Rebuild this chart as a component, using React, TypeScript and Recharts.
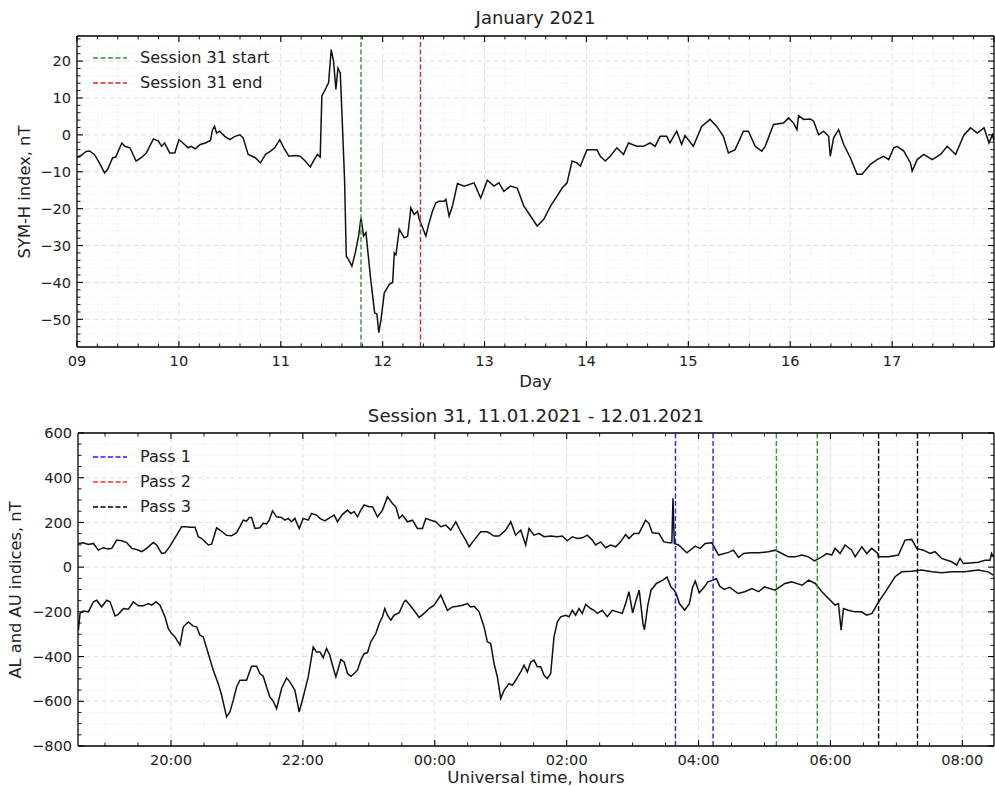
import React from 'react';
import { LineChart, Line, XAxis, YAxis, ReferenceLine } from 'recharts';

const FONT = '"DejaVu Sans", Verdana, sans-serif';

// ---------- Top panel: SYM-H index (day of January 2021, nT) ----------
const symhPoints: [number, number][] = [
  [9.0, -6], [9.04, -5.6], [9.09, -4.5], [9.125, -4.4], [9.17, -5.3], [9.22, -7.6], [9.27, -10.3], [9.3, -9.4],
  [9.35, -6.2], [9.38, -6.0], [9.44, -2.2], [9.47, -3.1], [9.52, -3.5], [9.58, -7.1], [9.63, -6.2], [9.68, -4.9],
  [9.75, -1.1], [9.8, -1.7], [9.83, -3.1], [9.86, -2.2], [9.91, -4.9], [9.96, -4.9], [10.0, -1.3], [10.04, -2.2],
  [10.09, -3.5], [10.12, -3.1], [10.16, -3.8], [10.21, -2.6], [10.26, -2.2], [10.31, -1.5], [10.33, 1.4], [10.35, 2.3],
  [10.37, 0.5], [10.4, 1.0], [10.45, -0.4], [10.5, -1.3], [10.55, -0.4], [10.6, 0], [10.63, -0.8], [10.68, -5.3],
  [10.75, -6.2], [10.8, -7.6], [10.85, -5.3], [10.9, -4.4], [10.94, -3.5], [10.99, -1.3], [11.03, -3.5], [11.08, -5.8],
  [11.14, -5.6], [11.19, -5.8], [11.24, -7.1], [11.29, -8.7], [11.32, -7.1], [11.36, -5.3], [11.387, -6.0], [11.403, 10.5],
  [11.436, 12.3], [11.469, 14.1], [11.495, 23.1], [11.518, 19.9], [11.541, 12.3], [11.561, 18.1], [11.584, 16.8], [11.6, 6],
  [11.626, -12.1], [11.643, -32.9], [11.666, -33.8], [11.698, -35.6], [11.731, -32], [11.764, -27.4], [11.787, -22.5], [11.813, -27.4],
  [11.836, -26.5], [11.879, -38.3], [11.921, -48.2], [11.944, -48.6], [11.962, -53.6], [11.984, -50], [12.016, -42.8], [12.065, -40.5],
  [12.098, -40], [12.114, -32], [12.13, -32.5], [12.163, -25.6], [12.212, -27.9], [12.245, -27.5], [12.277, -19.8], [12.31, -21.6],
  [12.342, -20.7], [12.359, -22.9], [12.424, -27.4], [12.456, -23.8], [12.489, -20.7], [12.522, -18.4], [12.554, -18], [12.603, -18],
  [12.62, -17.5], [12.652, -22], [12.685, -19.3], [12.734, -13.2], [12.8, -13.9], [12.897, -13], [12.962, -17.1], [13.027, -12.3],
  [13.092, -13.9], [13.141, -13], [13.19, -15.3], [13.255, -13.9], [13.32, -14.4], [13.386, -19.3], [13.451, -22], [13.516, -24.7],
  [13.581, -22.9], [13.647, -19.3], [13.712, -16.6], [13.761, -14.4], [13.81, -13], [13.859, -7.1], [13.907, -7.6], [13.94, -8.5],
  [14.005, -4], [14.103, -4], [14.136, -5.8], [14.185, -7.1], [14.233, -5.8], [14.299, -3.5], [14.364, -5.3], [14.413, -2.2],
  [14.494, -3.1], [14.559, -3.1], [14.625, -2.2], [14.674, -3.1], [14.723, -0.4], [14.788, -0.4], [14.82, -2.2], [14.886, 1],
  [14.934, -2.6], [14.967, -0.2], [15.049, -3.1], [15.131, 2.3], [15.213, 4.2], [15.279, 2.3], [15.344, -0.4], [15.393, -4.9],
  [15.459, -4], [15.541, 1], [15.59, 1], [15.656, -3.1], [15.721, -4.4], [15.754, -3.1], [15.836, 2.8], [15.934, 3.2],
  [15.984, 4.6], [16.033, 3.2], [16.066, 1.4], [16.082, 5.2], [16.131, 4.2], [16.197, 4.3], [16.23, 3.7], [16.279, 0],
  [16.328, 1], [16.377, -0.4], [16.393, -5.8], [16.426, -0.8], [16.475, 1.4], [16.525, -2.6], [16.59, -6.2], [16.656, -10.7],
  [16.705, -10.7], [16.787, -8], [16.852, -6.7], [16.918, -5.8], [16.967, -6.7], [17.016, -3.5], [17.049, -3.1], [17.115, -4.4],
  [17.18, -7.6], [17.197, -9.8], [17.246, -6.7], [17.311, -5.3], [17.393, -6.7], [17.475, -5.3], [17.541, -3.1], [17.623, -5.3],
  [17.705, 0], [17.77, 1.9], [17.836, 0.5], [17.902, 1.9], [17.951, -2.2], [17.984, 0], [18.0, -1.5],
];

// ---------- Bottom panel: AU (upper) and AL (lower), hours UT from 11.01 00:00 ----------
const auPoints: [number, number][] = [
  [18.596, 106], [18.672, 109], [18.747, 101], [18.823, 106], [18.899, 76], [18.975, 87], [19.05, 81], [19.101, 84],
  [19.177, 121], [19.253, 118], [19.328, 110], [19.404, 84], [19.48, 79], [19.556, 69], [19.631, 84], [19.732, 110],
  [19.783, 99], [19.859, 61], [19.909, 64], [19.985, 94], [20.086, 143], [20.162, 181], [20.237, 181], [20.288, 178],
  [20.364, 178], [20.414, 136], [20.465, 128], [20.566, 99], [20.616, 103], [20.692, 176], [20.742, 166], [20.843, 142],
  [20.919, 140], [20.995, 154], [21.045, 181], [21.096, 210], [21.146, 206], [21.187, 222], [21.222, 222], [21.273, 173],
  [21.348, 176], [21.399, 196], [21.449, 193], [21.49, 210], [21.54, 252], [21.601, 225], [21.677, 222], [21.727, 210],
  [21.778, 218], [21.828, 203], [21.879, 218], [21.944, 173], [22.005, 218], [22.081, 210], [22.131, 240], [22.207, 233],
  [22.258, 218], [22.333, 207], [22.409, 221], [22.475, 233], [22.525, 203], [22.601, 236], [22.677, 255], [22.727, 240],
  [22.778, 248], [22.828, 225], [22.879, 255], [22.929, 278], [23.005, 270], [23.056, 270], [23.131, 225], [23.207, 255],
  [23.283, 315], [23.359, 285], [23.409, 270], [23.46, 218], [23.51, 233], [23.586, 203], [23.662, 210], [23.737, 173],
  [23.813, 173], [23.864, 218], [23.939, 210], [24.015, 203], [24.091, 181], [24.167, 188], [24.242, 166], [24.318, 203],
  [24.394, 158], [24.47, 121], [24.52, 91], [24.596, 121], [24.697, 158], [24.798, 158], [24.899, 139], [24.975, 139],
  [25.076, 166], [25.152, 203], [25.227, 143], [25.303, 166], [25.379, 99], [25.429, 173], [25.505, 143], [25.581, 151],
  [25.657, 136], [25.758, 139], [25.859, 136], [25.934, 139], [26.01, 118], [26.086, 136], [26.162, 128], [26.237, 131],
  [26.313, 143], [26.389, 121], [26.439, 99], [26.515, 113], [26.591, 87], [26.667, 99], [26.742, 91], [26.818, 113],
  [26.894, 146], [26.944, 128], [27.02, 151], [27.096, 151], [27.197, 210], [27.247, 196], [27.298, 154], [27.399, 151],
  [27.475, 113], [27.55, 109], [27.595, 109], [27.612, 308], [27.632, 106], [27.697, 99], [27.823, 64], [27.949, 94],
  [28.025, 84], [28.101, 106], [28.202, 109], [28.303, 54], [28.455, 66], [28.53, 76], [28.606, 43], [28.682, 61],
  [28.783, 64], [28.909, 64], [29.061, 69], [29.162, 76], [29.263, 61], [29.364, 46], [29.465, 46], [29.566, 54],
  [29.667, 46], [29.758, 28], [29.869, 46], [29.944, 61], [30.02, 54], [30.071, 84], [30.146, 61], [30.222, 99],
  [30.323, 76], [30.374, 46], [30.475, 91], [30.551, 61], [30.626, 84], [30.717, 61], [30.727, 46], [30.879, 46],
  [31.03, 54], [31.131, 121], [31.232, 124], [31.308, 84], [31.409, 76], [31.51, 61], [31.586, 69], [31.687, 39],
  [31.838, 24], [31.914, 9], [31.965, 39], [32.015, 16], [32.116, 19], [32.242, 22], [32.343, 31], [32.419, 31],
  [32.444, 61], [32.47, 46],
];

const alPoints: [number, number][] = [
  [18.596, -282], [18.621, -207], [18.672, -196], [18.747, -200], [18.823, -155], [18.874, -148], [18.949, -178], [19.025, -148],
  [19.076, -155], [19.152, -218], [19.202, -211], [19.278, -185], [19.354, -188], [19.429, -155], [19.505, -173], [19.581, -173],
  [19.657, -163], [19.707, -170], [19.773, -155], [19.833, -170], [19.909, -222], [19.96, -275], [20.01, -297], [20.061, -312],
  [20.136, -349], [20.187, -267], [20.263, -245], [20.338, -264], [20.389, -267], [20.439, -304], [20.49, -312], [20.566, -387],
  [20.641, -461], [20.717, -521], [20.768, -573], [20.843, -670], [20.894, -648], [20.944, -596], [20.995, -536], [21.045, -506],
  [21.146, -506], [21.222, -443], [21.298, -443], [21.348, -476], [21.399, -488], [21.449, -536], [21.5, -581], [21.551, -600],
  [21.601, -633], [21.677, -543], [21.753, -496], [21.803, -513], [21.879, -551], [21.944, -648], [22.005, -581], [22.081, -491],
  [22.157, -357], [22.207, -379], [22.258, -379], [22.308, -405], [22.359, -364], [22.409, -394], [22.449, -439], [22.5, -491],
  [22.576, -413], [22.626, -424], [22.677, -476], [22.727, -488], [22.778, -476], [22.828, -461], [22.879, -416], [22.929, -387],
  [22.98, -382], [23.03, -334], [23.106, -297], [23.157, -252], [23.207, -222], [23.242, -185], [23.283, -215], [23.333, -237],
  [23.384, -215], [23.46, -204], [23.535, -155], [23.561, -148], [23.636, -175], [23.712, -204], [23.763, -225], [23.838, -207],
  [23.914, -185], [23.99, -170], [24.091, -125], [24.192, -193], [24.268, -178], [24.343, -175], [24.419, -170], [24.495, -163],
  [24.545, -178], [24.596, -175], [24.672, -200], [24.747, -267], [24.798, -334], [24.848, -342], [24.899, -431], [24.949, -491],
  [25.0, -588], [25.051, -551], [25.126, -521], [25.177, -528], [25.227, -506], [25.303, -469], [25.354, -439], [25.404, -469],
  [25.455, -424], [25.505, -416], [25.556, -446], [25.606, -446], [25.657, -484], [25.707, -498], [25.758, -476], [25.808, -312],
  [25.859, -245], [25.909, -222], [25.985, -215], [26.035, -222], [26.086, -193], [26.136, -215], [26.187, -185], [26.237, -207],
  [26.288, -167], [26.364, -185], [26.414, -193], [26.465, -207], [26.54, -193], [26.616, -222], [26.692, -193], [26.768, -200],
  [26.843, -207], [26.894, -163], [26.944, -110], [27.0, -205], [27.05, -150], [27.1, -103], [27.157, -253], [27.18, -280],
  [27.23, -171], [27.28, -103], [27.36, -73], [27.46, -58], [27.52, -44], [27.58, -88], [27.63, -103], [27.66, -118],
  [27.71, -163], [27.79, -193], [27.86, -163], [27.91, -90], [27.95, -62], [28.01, -115], [28.09, -88], [28.14, -66],
  [28.22, -58], [28.27, -51], [28.32, -85], [28.39, -100], [28.47, -90], [28.53, -103], [28.6, -118], [28.7, -110],
  [28.81, -96], [28.91, -110], [29.0, -88], [29.16, -103], [29.31, -73], [29.41, -66], [29.57, -81], [29.67, -58],
  [29.77, -73], [29.87, -110], [29.97, -140], [30.07, -170], [30.121, -163], [30.162, -282], [30.197, -185], [30.27, -193],
  [30.37, -200], [30.47, -200], [30.55, -215], [30.63, -207], [30.73, -155], [30.85, -103], [30.98, -43], [31.08, -21],
  [31.23, -18], [31.38, -13], [31.54, -21], [31.69, -25], [31.84, -21], [32.04, -21], [32.24, -13], [32.39, -21],
  [32.47, -36],
];

// ---------- Markers / legend ----------
const sessionNames = ['Session 31 start', 'Session 31 end'];
const sessionColors = ['#3a923a', '#d62828'];
const sessionDays = [11.787, 12.371];

const passNames = ['Pass 1', 'Pass 2', 'Pass 3'];
const passLegendColors = ['#2020ff', '#ff3030', '#000000'];
const passLineColors = ['#2020ff', '#2a9a2a', '#000000'];
const passStarts = [27.65, 29.18, 30.73];
const passEnds = [28.22, 29.8, 31.32];

// ---------- Axes ----------
const topXDomain = [9, 18];
const topYDomain = [-57.5, 26.8];
const botXDomain = [18.59, 32.48];
const botYDomain = [-800, 600];

const range = (a: number, b: number, step: number) => {
  const out: number[] = [];
  for (let i = 0; a + i * step <= b + 1e-9; i++) out.push(+(a + i * step).toFixed(4));
  return out;
};
const topXTicks = range(9, 18, 0.2);
const topYTicks = range(-56, 26, 2);
const botXTicks = range(19, 32, 0.5);
const botYTicks = range(-800, 600, 50);

const isMult = (v: number, step: number) => Math.abs(v / step - Math.round(v / step)) < 1e-6;
const fmtNum = (v: number) => (v < 0 ? '\u2212' + Math.abs(v) : String(v));
const fmtDay = (v: number) => (v >= 18 ? '' : String(Math.round(v)).padStart(2, '0'));
const fmtHour = (v: number) => String(Math.round(v) % 24).padStart(2, '0') + ':00';

type Side = 'top' | 'bottom' | 'left' | 'right';
const makeTick = (side: Side, majorStep: number, fmt?: (v: number) => string) => (props: any) => {
  const { x, y, payload } = props;
  const v = payload.value as number;
  const major = isMult(v, majorStep);
  const len = major ? 6 : 3.5;
  const sw = major ? 1.1 : 0.9;
  let line: any = null;
  let label: any = null;
  if (side === 'bottom') {
    line = <line x1={x} y1={y} x2={x} y2={y - len} stroke="#000" strokeWidth={sw} />;
    if (fmt && major)
      label = (
        <text x={x} y={y + 19} textAnchor="middle" fontSize={14.6} fill="#222" style={{ fontFamily: FONT }}>
          {fmt(v)}
        </text>
      );
  } else if (side === 'top') {
    line = <line x1={x} y1={y} x2={x} y2={y + len} stroke="#000" strokeWidth={sw} />;
  } else if (side === 'left') {
    line = <line x1={x} y1={y} x2={x + len} y2={y} stroke="#000" strokeWidth={sw} />;
    if (fmt && major)
      label = (
        <text x={x - 6} y={y + 5.2} textAnchor="end" fontSize={14.6} fill="#222" style={{ fontFamily: FONT }}>
          {fmt(v)}
        </text>
      );
  } else {
    line = <line x1={x} y1={y} x2={x - len} y2={y} stroke="#000" strokeWidth={sw} />;
  }
  return (
    <g>
      {line}
      {label}
    </g>
  );
};

const axisLine = { stroke: '#000', strokeWidth: 1.3 };
const majorGrid = { stroke: '#d8d8d8', strokeWidth: 0.8, strokeDasharray: '5 3' };
const minorGrid = { stroke: '#ececec', strokeWidth: 0.8, strokeDasharray: '1.5 2' };

function Txt({ cx, cy, size, rotate, children }: any) {
  return (
    <div
      style={{
        position: 'absolute',
        left: cx,
        top: cy,
        transform: `translate(-50%, -50%)${rotate ? ` rotate(${rotate}deg)` : ''}`,
        whiteSpace: 'nowrap',
        fontFamily: FONT,
        fontSize: size,
        lineHeight: 1,
        color: '#222',
      }}
    >
      {children}
    </div>
  );
}

function LegendBox({ left, top, names, colors }: any) {
  return (
    <div style={{ position: 'absolute', left, top }}>
      {names.map((n: string, i: number) => (
        <div key={n} style={{ position: 'absolute', left: 0, top: i * 25 - 8, height: 16, display: 'flex', alignItems: 'center' }}>
          <svg width={36} height={4} style={{ display: 'block' }}>
            <line x1={0} y1={2} x2={34} y2={2} stroke={colors[i]} strokeWidth={1.5} strokeDasharray="5 2.5" />
          </svg>
          <span style={{ marginLeft: 11, fontFamily: FONT, fontSize: 16.1, color: '#222', whiteSpace: 'nowrap', lineHeight: 1 }}>
            {n}
          </span>
        </div>
      ))}
    </div>
  );
}

export default function App() {
  const topData = symhPoints.map(([d, v]) => ({ d, v }));
  const botData = [
    ...auPoints.map(([h, v]) => ({ h, au: v })),
    ...alPoints.map(([h, v]) => ({ h, al: v })),
  ].sort((a, b) => a.h - b.h);

  const topMinorX = topXTicks.filter((t) => !isMult(t, 1) && t > topXDomain[0] && t < topXDomain[1]);
  const topMajorX = topXTicks.filter((t) => isMult(t, 1) && t > topXDomain[0] && t < topXDomain[1]);
  const topMinorY = topYTicks.filter((t) => !isMult(t, 10));
  const topMajorY = topYTicks.filter((t) => isMult(t, 10));
  const botMinorX = botXTicks.filter((t) => !isMult(t, 2));
  const botMajorX = botXTicks.filter((t) => isMult(t, 2));
  const botMinorY = botYTicks.filter((t) => !isMult(t, 200) && t > botYDomain[0] && t < botYDomain[1]);
  const botMajorY = botYTicks.filter((t) => isMult(t, 200) && t > botYDomain[0] && t < botYDomain[1]);

  return (
    <div style={{ position: 'absolute', left: 0, top: 0, width: 995, height: 786, background: '#fff', overflow: 'hidden' }}>
      {/* ---------------- Top chart ---------------- */}
      <div style={{ position: 'absolute', left: 0, top: 0 }}>
        <LineChart width={995} height={395} data={topData} margin={{ top: 35, right: 0, bottom: 0, left: 0 }}>
          <XAxis
            xAxisId="main"
            dataKey="d"
            type="number"
            domain={topXDomain}
            allowDataOverflow
            ticks={topXTicks}
            interval={0}
            height={48}
            tickSize={0}
            tickMargin={0}
            axisLine={axisLine}
            tickLine={false}
            tick={makeTick('bottom', 1, fmtDay)}
          />
          <XAxis
            xAxisId="top"
            dataKey="d"
            orientation="top"
            type="number"
            domain={topXDomain}
            allowDataOverflow
            ticks={topXTicks}
            interval={0}
            height={1}
            tickSize={0}
            tickMargin={0}
            axisLine={axisLine}
            tickLine={false}
            tick={makeTick('top', 1)}
          />
          <YAxis
            yAxisId="main"
            type="number"
            domain={topYDomain}
            allowDataOverflow
            ticks={topYTicks}
            interval={0}
            width={77}
            tickSize={0}
            tickMargin={0}
            axisLine={axisLine}
            tickLine={false}
            tick={makeTick('left', 10, fmtNum)}
          />
          <YAxis
            yAxisId="right"
            orientation="right"
            type="number"
            domain={topYDomain}
            allowDataOverflow
            ticks={topYTicks}
            interval={0}
            width={1}
            tickSize={0}
            tickMargin={0}
            axisLine={axisLine}
            tickLine={false}
            tick={makeTick('right', 10)}
          />
          {topMinorX.map((t) => (
            <ReferenceLine key={'tmx' + t} xAxisId="main" yAxisId="main" x={t} {...minorGrid} />
          ))}
          {topMinorY.map((t) => (
            <ReferenceLine key={'tmy' + t} xAxisId="main" yAxisId="main" y={t} {...minorGrid} />
          ))}
          {topMajorX.map((t) => (
            <ReferenceLine key={'tMx' + t} xAxisId="main" yAxisId="main" x={t} {...majorGrid} />
          ))}
          {topMajorY.map((t) => (
            <ReferenceLine key={'tMy' + t} xAxisId="main" yAxisId="main" y={t} {...majorGrid} />
          ))}
          {/* invisible copy bound to the top/right frame axes so their scales are set */}
          <Line
            xAxisId="top"
            yAxisId="right"
            dataKey="v"
            stroke="none"
            strokeWidth={0}
            dot={false}
            activeDot={false}
            isAnimationActive={false}
          />
          <Line
            xAxisId="main"
            yAxisId="main"
            dataKey="v"
            stroke="#111"
            strokeWidth={1.5}
            dot={false}
            activeDot={false}
            isAnimationActive={false}
          />
          {sessionDays.map((d, i) => (
            <ReferenceLine
              key={'s' + i}
              xAxisId="main"
              yAxisId="main"
              x={d}
              stroke={sessionColors[i]}
              strokeWidth={1.4}
              strokeDasharray="5 2.5"
            />
          ))}
        </LineChart>
      </div>

      {/* ---------------- Bottom chart ---------------- */}
      <div style={{ position: 'absolute', left: 0, top: 395 }}>
        <LineChart width={995} height={391} data={botData} margin={{ top: 37, right: 0, bottom: 0, left: 0 }}>
          <XAxis
            xAxisId="main"
            dataKey="h"
            type="number"
            domain={botXDomain}
            allowDataOverflow
            ticks={botXTicks}
            interval={0}
            height={40}
            tickSize={0}
            tickMargin={0}
            axisLine={axisLine}
            tickLine={false}
            tick={makeTick('bottom', 2, fmtHour)}
          />
          <XAxis
            xAxisId="top"
            dataKey="h"
            orientation="top"
            type="number"
            domain={botXDomain}
            allowDataOverflow
            ticks={botXTicks}
            interval={0}
            height={1}
            tickSize={0}
            tickMargin={0}
            axisLine={axisLine}
            tickLine={false}
            tick={makeTick('top', 2)}
          />
          <YAxis
            yAxisId="main"
            type="number"
            domain={botYDomain}
            allowDataOverflow
            ticks={botYTicks}
            interval={0}
            width={78}
            tickSize={0}
            tickMargin={0}
            axisLine={axisLine}
            tickLine={false}
            tick={makeTick('left', 200, fmtNum)}
          />
          <YAxis
            yAxisId="right"
            orientation="right"
            type="number"
            domain={botYDomain}
            allowDataOverflow
            ticks={botYTicks}
            interval={0}
            width={1}
            tickSize={0}
            tickMargin={0}
            axisLine={axisLine}
            tickLine={false}
            tick={makeTick('right', 200)}
          />
          {botMinorX.map((t) => (
            <ReferenceLine key={'bmx' + t} xAxisId="main" yAxisId="main" x={t} {...minorGrid} />
          ))}
          {botMinorY.map((t) => (
            <ReferenceLine key={'bmy' + t} xAxisId="main" yAxisId="main" y={t} {...minorGrid} />
          ))}
          {botMajorX.map((t) => (
            <ReferenceLine key={'bMx' + t} xAxisId="main" yAxisId="main" x={t} {...majorGrid} />
          ))}
          {botMajorY.map((t) => (
            <ReferenceLine key={'bMy' + t} xAxisId="main" yAxisId="main" y={t} {...majorGrid} />
          ))}
          {/* invisible copy bound to the top/right frame axes so their scales are set */}
          <Line
            xAxisId="top"
            yAxisId="right"
            dataKey="au"
            stroke="none"
            strokeWidth={0}
            dot={false}
            activeDot={false}
            connectNulls
            isAnimationActive={false}
          />
          <Line
            xAxisId="main"
            yAxisId="main"
            dataKey="au"
            stroke="#111"
            strokeWidth={1.5}
            dot={false}
            activeDot={false}
            connectNulls
            isAnimationActive={false}
          />
          <Line
            xAxisId="main"
            yAxisId="main"
            dataKey="al"
            stroke="#111"
            strokeWidth={1.5}
            dot={false}
            activeDot={false}
            connectNulls
            isAnimationActive={false}
          />
          {passStarts.flatMap((s, i) =>
            [s, passEnds[i]].map((t, j) => (
              <ReferenceLine
                key={'p' + i + '-' + j}
                xAxisId="main"
                yAxisId="main"
                x={t}
                stroke={passLineColors[i]}
                strokeWidth={1.4}
                strokeDasharray="5 2.5"
              />
            ))
          )}
        </LineChart>
      </div>

      {/* ---------------- Text ---------------- */}
      <Txt cx={535.5} cy={18} size={18}>January 2021</Txt>
      <Txt cx={535.5} cy={382} size={16.5}>Day</Txt>
      <Txt cx={25} cy={191.5} size={16.3} rotate={-90}>SYM-H index, nT</Txt>
      <Txt cx={536} cy={416} size={18.2}>Session 31, 11.01.2021 - 12.01.2021</Txt>
      <Txt cx={536} cy={778} size={16.6}>Universal time, hours</Txt>
      <Txt cx={16} cy={589.5} size={16.3} rotate={-90}>AL and AU indices, nT</Txt>

      <LegendBox left={93} top={58.3} names={sessionNames} colors={sessionColors} />
      <LegendBox left={93} top={456.7} names={passNames} colors={passLegendColors} />
    </div>
  );
}
